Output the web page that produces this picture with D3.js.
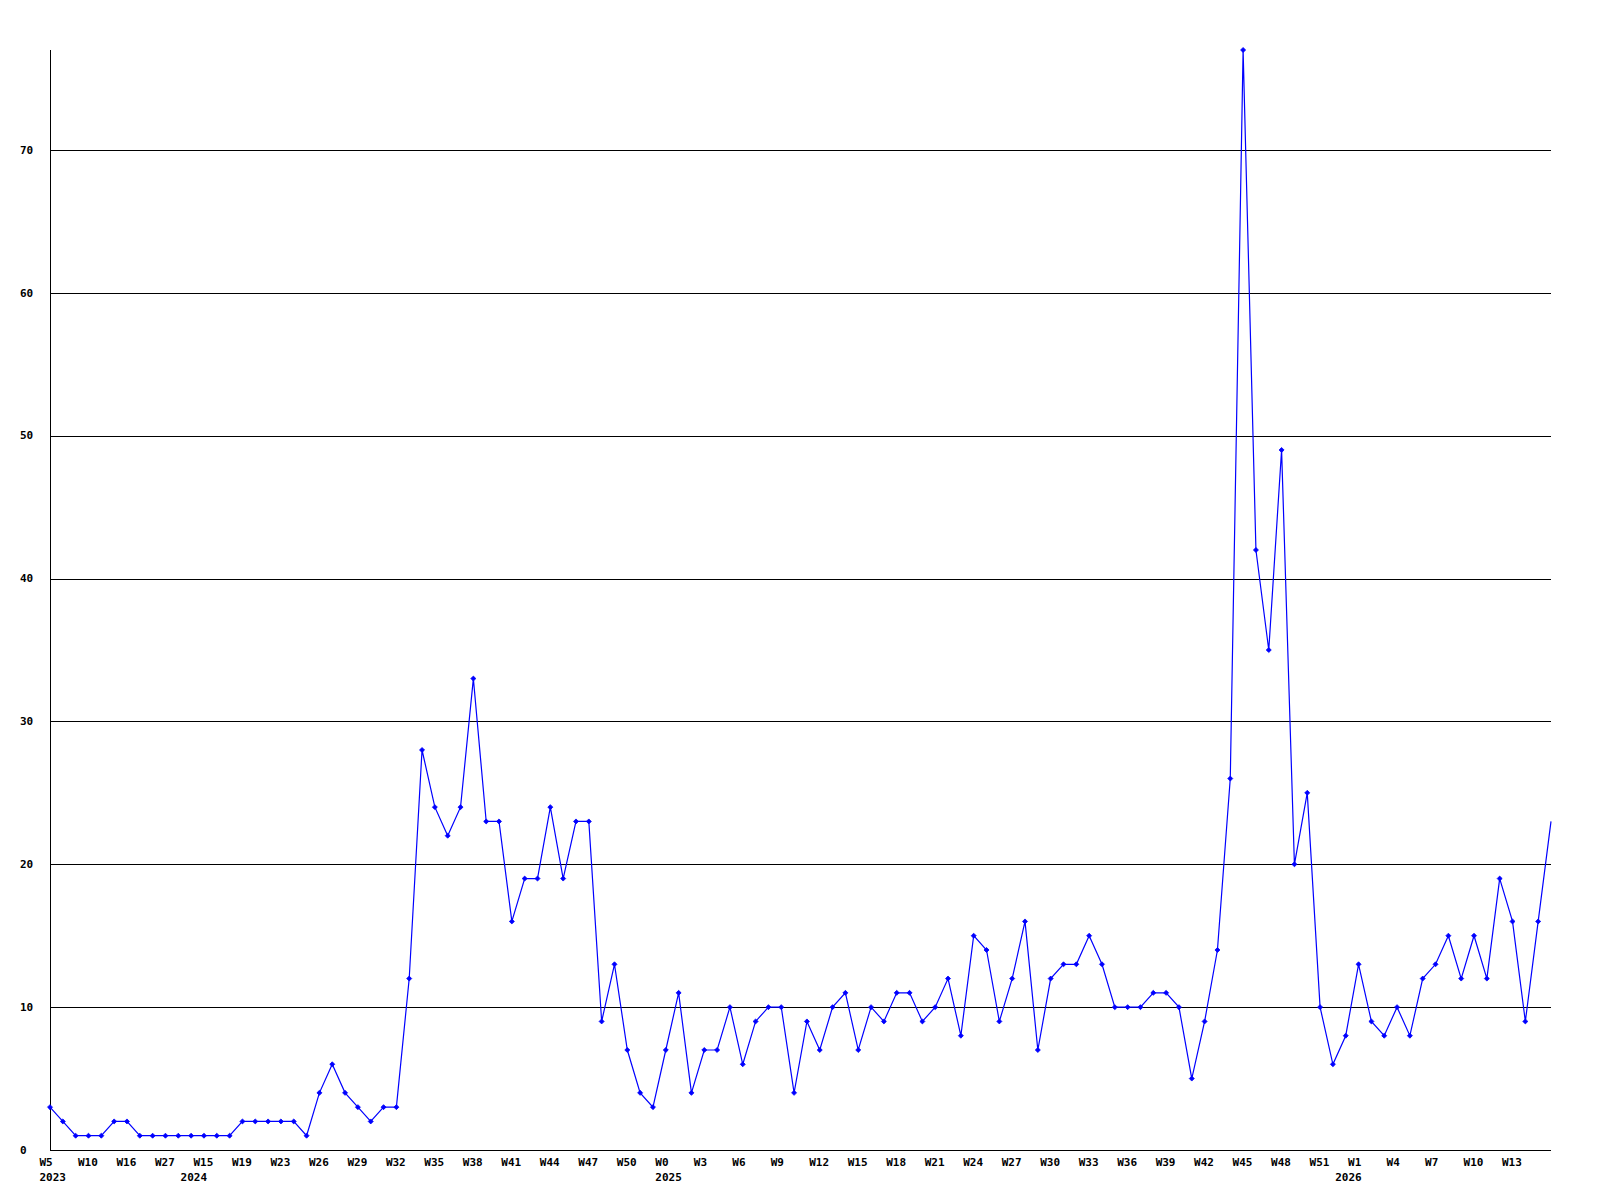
<!DOCTYPE html>
<html>
<head>
<meta charset="utf-8">
<script src="https://cdn.jsdelivr.net/npm/d3@7"></script>
<style>
  body { margin: 0; background: #ffffff; }
</style>
</head>
<body>
<div id="chart"></div>
<script>
(function() {
  var width = 1600,
    height = 1200,
    margin = { top: 50, left: 50, right: 49, bottom: 50 };

  // weekly counts, one per week, oldest first
  var counts = [
    3, 2, 1, 1, 1, 2, 2, 1, 1, 1, 1, 1, 1, 1, 1, 2, 2, 2, 2, 2,
    1, 4, 6, 4, 3, 2, 3, 3, 12, 28, 24, 22, 24, 33, 23, 23, 16, 19, 19, 24,
    19, 23, 23, 9, 13, 7, 4, 3, 7, 11, 4, 7, 7, 10, 6, 9, 10, 10, 4, 9,
    7, 10, 11, 7, 10, 9, 11, 11, 9, 10, 12, 8, 15, 14, 9, 12, 16, 7, 12, 13,
    13, 15, 13, 10, 10, 10, 11, 11, 10, 5, 9, 14, 26, 77, 42, 35, 49, 20, 25, 10,
    6, 8, 13, 9, 8, 10, 8, 12, 13, 15, 12, 15, 12, 19, 16, 9, 16, 23
  ];

  // a label on every third week
  var weekLabels = [
    "W5", "W10", "W16", "W27", "W15", "W19", "W23", "W26", "W29", "W32",
    "W35", "W38", "W41", "W44", "W47", "W50", "W0", "W3", "W6", "W9",
    "W12", "W15", "W18", "W21", "W24", "W27", "W30", "W33", "W36", "W39",
    "W42", "W45", "W48", "W51", "W1", "W4", "W7", "W10", "W13"
  ];

  // years and the week they start at
  var years = ["2023", "2024", "2025", "2026"];
  var yearStart = [0, 11, 48, 101];

  var yTicks = [0, 10, 20, 30, 40, 50, 60, 70];
  var yMax = 77;

  var svg = d3.select("#chart")
    .append("svg")
    .attr("width", width)
    .attr("height", height)
    .style("display", "block");

  var xPositionScale = d3.scaleLinear()
    .domain([0, counts.length - 1])
    .range([margin.left, width - margin.right]);

  var yPositionScale = d3.scaleLinear()
    .domain([0, yMax])
    .range([height - margin.bottom, margin.top]);

  var labelFont = "'DejaVu Sans Mono', 'Liberation Mono', monospace";

  // grid lines
  svg.append("g")
    .selectAll("line")
    .data(yTicks.slice(1))
    .enter().append("line")
    .attr("x1", xPositionScale(0))
    .attr("x2", xPositionScale(counts.length - 1))
    .attr("y1", function(d) { return Math.round(yPositionScale(d)) + 0.5 })
    .attr("y2", function(d) { return Math.round(yPositionScale(d)) + 0.5 })
    .attr("stroke", "#000000")
    .attr("stroke-width", 1)
    .attr("shape-rendering", "crispEdges");

  // axes lines
  svg.append("line")
    .attr("x1", xPositionScale(0))
    .attr("x2", xPositionScale(counts.length - 1))
    .attr("y1", Math.round(yPositionScale(0)) + 0.5)
    .attr("y2", Math.round(yPositionScale(0)) + 0.5)
    .attr("stroke", "#000000")
    .attr("shape-rendering", "crispEdges");

  svg.append("line")
    .attr("x1", xPositionScale(0) + 0.5)
    .attr("x2", xPositionScale(0) + 0.5)
    .attr("y1", yPositionScale(yMax))
    .attr("y2", yPositionScale(0))
    .attr("stroke", "#000000")
    .attr("shape-rendering", "crispEdges");

  // y labels
  svg.append("g")
    .selectAll("text")
    .data(yTicks)
    .enter().append("text")
    .attr("x", 20)
    .attr("y", function(d) { return yPositionScale(d) })
    .attr("dy", "0.34em")
    .text(function(d) { return d })
    .style("font-family", labelFont)
    .style("font-weight", "bold")
    .style("font-size", "11px")
    .style("fill", "#000000");

  // week labels
  svg.append("g")
    .selectAll("text")
    .data(weekLabels)
    .enter().append("text")
    .attr("x", function(d, i) { return xPositionScale(i * 3) - 10.5 })
    .attr("y", 1166)
    .text(function(d) { return d })
    .style("font-family", labelFont)
    .style("font-weight", "bold")
    .style("font-size", "11px")
    .style("fill", "#000000");

  // year labels
  svg.append("g")
    .selectAll("text")
    .data(years)
    .enter().append("text")
    .attr("x", function(d, i) { return xPositionScale(yearStart[i]) - 10.5 })
    .attr("y", 1181)
    .text(function(d) { return d })
    .style("font-family", labelFont)
    .style("font-weight", "bold")
    .style("font-size", "11px")
    .style("fill", "#000000");

  // the line
  var line = d3.line()
    .x(function(d, i) { return xPositionScale(i) })
    .y(function(d) { return yPositionScale(d) });

  svg.append("path")
    .datum(counts)
    .attr("d", line)
    .attr("fill", "none")
    .attr("stroke", "#0000ff")
    .attr("stroke-width", 1.2);

  // markers, the last week has none
  var marker = d3.symbol().type(d3.symbolDiamond2).size(16);

  svg.append("g")
    .selectAll("path")
    .data(counts.slice(0, counts.length - 1))
    .enter().append("path")
    .attr("d", marker)
    .attr("transform", function(d, i) {
      return "translate(" + xPositionScale(i) + "," + yPositionScale(d) + ")"
    })
    .attr("fill", "#0000ff")
    .attr("stroke", "#0000ff")
    .attr("stroke-width", 0.8);
})();
</script>
</body>
</html>
